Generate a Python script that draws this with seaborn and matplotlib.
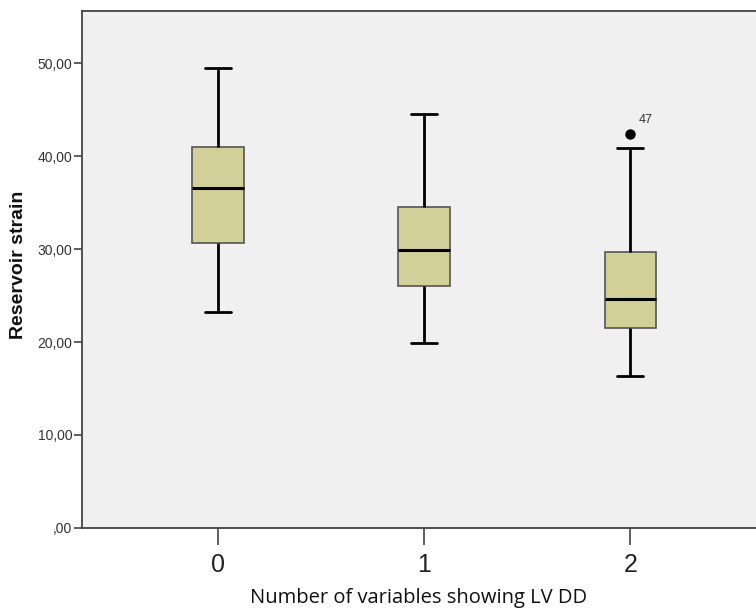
import numpy as np
import pandas as pd
import matplotlib
matplotlib.use("Agg")
import matplotlib.pyplot as plt
import seaborn as sns

# ── Data ───────────────────────────────────────
groups = ["0", "1", "2"]
strain_0 = [23.2, 28.0, 30.6, 34.0, 36.6, 39.0, 41.0, 45.0, 49.5]
strain_1 = [19.9, 24.0, 26.0, 28.0, 29.9, 32.0, 34.5, 39.0, 44.5]
strain_2 = [16.3, 19.0, 21.5, 23.0, 24.6, 27.0, 29.7, 40.9, 42.4]
outlier_label = "47"
y_ticks = [0, 10, 20, 30, 40, 50]
y_tick_labels = [",00", "10,00", "20,00", "30,00", "40,00", "50,00"]

df = pd.DataFrame({
    "group": ["0"] * len(strain_0) + ["1"] * len(strain_1) + ["2"] * len(strain_2),
    "strain": strain_0 + strain_1 + strain_2,
})

# ── Style ──────────────────────────────────────
sns.set_style("white")
plt.rcParams["font.family"] = ["Liberation Sans", "DejaVu Sans"]

BOX = "#D3CF99"
BG = "#F0F0F0"
EDGE = "#444444"

fig = plt.figure(figsize=(7.56, 6.12), dpi=100)
ax = fig.add_axes([0.1085, 0.1373, 0.8915, 0.8447])
ax.set_facecolor(BG)

sns.boxplot(
    data=df, x="group", y="strain", order=groups, ax=ax,
    color=BOX, saturation=1, width=0.25, whis=1.5,
    boxprops={"edgecolor": "#555555", "linewidth": 1.2},
    whiskerprops={"color": "black", "linewidth": 2},
    capprops={"color": "black", "linewidth": 2},
    medianprops={"color": "black", "linewidth": 2.2},
    flierprops={"marker": "o", "markerfacecolor": "black",
                "markeredgecolor": "black", "markersize": 6.5},
)

ax.annotate(outlier_label, xy=(2, max(strain_2)), xytext=(6, 8),
            textcoords="offset points", fontsize=9, color="#333333")

ax.set_xlim(-0.66, 2.61)
ax.set_ylim(0, 55.6)
ax.set_yticks(y_ticks)
ax.set_yticklabels(y_tick_labels)

for side in ["left", "bottom", "top"]:
    ax.spines[side].set_color(EDGE)
    ax.spines[side].set_linewidth(1.3)
ax.spines["right"].set_visible(False)

ax.tick_params(axis="y", direction="out", length=6, width=1.2, color=EDGE,
               labelsize=10, labelcolor="#333333", pad=1, left=True)
ax.tick_params(axis="x", direction="out", length=12, width=1.2, color=EDGE,
               labelsize=18, labelcolor="#222222", pad=6, bottom=True)

ax.set_xlabel("Number of variables showing LV DD", fontsize=14.5,
              family=["Open Sans", "DejaVu Sans"], color="#111111")
ax.xaxis.set_label_coords(0.5, -0.116)
ax.xaxis.label.set_va("top")
ax.set_ylabel("Reservoir strain", fontsize=14, fontweight="bold", color="#111111")
ax.yaxis.set_label_coords(-0.082, 0.51)

fig.savefig("out.png", dpi=100)
